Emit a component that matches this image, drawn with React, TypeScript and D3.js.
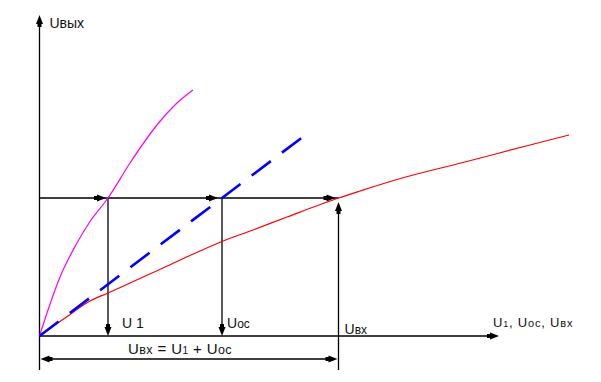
import React from "react";
import * as d3 from "d3";

// Key quantities (chart units)
const U1 = 13.7;
const UOC = 36.5;
const UVX = 59.8;
const UVYX = 27.6;
const X_AXIS_END = 91.9;
const Y_AXIS_END = 64.2;

// Magenta curve: characteristic of first element
const magentaX = [0, 1.7, 4.1, 7.1, 10.1, 13.7, 18.1, 23.5, 27.5, 30.7];
const magentaY = [0, 5.2, 11.8, 17.9, 22.9, 27.6, 34.6, 42.2, 46.6, 49.2];

// Red curve: resulting characteristic
const redX = [0, 5.1, 10.1, 13.7, 18.1, 24.7, 30.1, 36.5, 42.7, 49.5, 59.8, 64.1, 71.5, 84.7, 98.1, 105.9];
const redY = [0, 3.6, 7.0, 8.6, 10.6, 13.6, 16.1, 18.9, 21.2, 23.8, 27.6, 29.0, 31.3, 34.7, 38.2, 40.2];

// Blue dashed line: feedback element (straight)
const blueX = [0, 52.9];
const blueY = [0, 40.0];

const x = d3.scaleLinear().domain([0, 100]).range([39.5, 539.5]);
const y = d3.scaleLinear().domain([0, 100]).range([336, -164]);

const line = d3
  .line<[number, number]>()
  .x((d) => x(d[0]))
  .y((d) => y(d[1]))
  .curve(d3.curveMonotoneX);

const zip = (a: number[], b: number[]) => a.map((v, i) => [v, b[i]] as [number, number]);

// arrowhead: tip at (tx,ty) pointing in direction angle (deg)
function Arrow({ tx, ty, dir }: { tx: number; ty: number; dir: number }) {
  const L = 9;
  const W = 3.5;
  return (
    <g transform={`translate(${tx},${ty}) rotate(${dir})`}>
      <path d={`M0,0 L${-L},${-W} L${-L},${W} Z`} fill="#000" />
      <rect x={-L - 3} y={-2} width={4} height={4} fill="#000" />
    </g>
  );
}

const FONT = "'Liberation Sans', Arial, sans-serif";

export default function App() {
  const ox = x(0);
  const oy = y(0);
  const yv = y(UVYX);
  const yDim = y(-4.6);
  const yBottom = y(-6.8);
  return (
    <svg
      width={601}
      height={382}
      style={{ position: "absolute", left: 0, top: 0, background: "#fff" }}
      fontFamily={FONT}
    >
      {/* axes */}
      <line x1={ox} y1={yBottom} x2={ox} y2={y(Y_AXIS_END) + 4} stroke="#000" strokeWidth={1.3} />
      <Arrow tx={ox} ty={y(Y_AXIS_END)} dir={-90} />
      <line x1={ox} y1={oy} x2={x(X_AXIS_END) - 4} y2={oy} stroke="#000" strokeWidth={1.3} />
      <Arrow tx={x(X_AXIS_END)} ty={oy} dir={0} />

      {/* horizontal construction line at Uвых */}
      <line x1={ox} y1={yv} x2={x(UVX)} y2={yv} stroke="#000" strokeWidth={1.3} />
      <Arrow tx={x(U1) - 2} ty={yv} dir={0} />
      <Arrow tx={x(UOC) - 4} ty={yv} dir={0} />
      <Arrow tx={x(UVX) - 3} ty={yv} dir={0} />

      {/* verticals */}
      <line x1={x(U1)} y1={yv} x2={x(U1)} y2={oy - 4} stroke="#000" strokeWidth={1.3} />
      <Arrow tx={x(U1)} ty={oy} dir={90} />
      <line x1={x(UOC)} y1={yv} x2={x(UOC)} y2={oy - 4} stroke="#000" strokeWidth={1.3} />
      <Arrow tx={x(UOC)} ty={oy} dir={90} />
      <line x1={x(UVX)} y1={yBottom} x2={x(UVX)} y2={yv + 8} stroke="#000" strokeWidth={1.3} />
      <Arrow tx={x(UVX)} ty={yv + 4} dir={-90} />

      {/* dimension line */}
      <line x1={ox + 4} y1={yDim} x2={x(UVX) - 4} y2={yDim} stroke="#000" strokeWidth={1.3} />
      <Arrow tx={ox + 1} ty={yDim} dir={180} />
      <Arrow tx={x(UVX) - 1} ty={yDim} dir={0} />

      {/* curves */}
      <path d={line(zip(redX, redY)) || ""} fill="none" stroke="#ff0000" strokeWidth={1.2} />
      <path d={line(zip(magentaX, magentaY)) || ""} fill="none" stroke="#ff00ff" strokeWidth={1.2} />
      <path
        d={line(zip(blueX, blueY)) || ""}
        fill="none"
        stroke="#0000ff"
        strokeWidth={2.6}
        strokeDasharray="24 14"
      />

      {/* labels */}
      <text x={ox + 10} y={28} fontSize={14} fill="#111">
        Uвых
      </text>
      <text x={x(U1) + 14} y={328} fontSize={14} fill="#111">
        U 1
      </text>
      <text x={x(UOC) + 5} y={328} fontSize={14} fill="#111">
        U<tspan fontSize={12}>ос</tspan>
      </text>
      <text x={x(UVX) + 6} y={334} fontSize={14} fill="#111">
        U<tspan fontSize={12}>вх</tspan>
      </text>
      <text x={128} y={354} fontSize={15} fill="#111" letterSpacing={0.4}>
        U<tspan fontSize={12.5}>вх</tspan> = U<tspan fontSize={10}>1</tspan> + U<tspan fontSize={12.5}>ос</tspan>
      </text>
      <text x={493} y={327} fontSize={13} fill="#111" letterSpacing={0.8}>
        U<tspan fontSize={9}>1</tspan>, U<tspan fontSize={11}>ос</tspan>, U<tspan fontSize={11}>вх</tspan>
      </text>
    </svg>
  );
}
